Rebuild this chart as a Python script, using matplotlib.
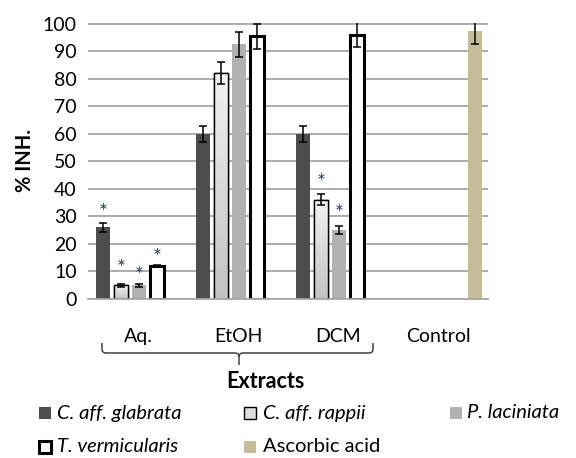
import numpy as np
import matplotlib.pyplot as plt
from matplotlib.patches import Rectangle, PathPatch
from matplotlib.path import Path
from matplotlib.colors import LinearSegmentedColormap

plt.rcParams['font.family'] = ['Lato', 'DejaVu Sans']

# data
groups = ['Aq.', 'EtOH', 'DCM', 'Control']
series = ['C. aff. glabrata', 'C. aff. rappii', 'P. laciniata',
          'T. vermicularis', 'Ascorbic acid']

glabrata = [26, 60, 60, 0]
glabrata_err = [1.5, 3, 3, 0]
rappii = [5, 82, 36, 0]
rappii_err = [0.5, 4, 2, 0]
laciniata = [5, 92.5, 25, 0]
laciniata_err = [0.5, 4.5, 1.5, 0]
vermicularis = [12, 95.5, 96, 0]
vermicularis_err = [0.5, 4.5, 4.5, 0]
ascorbic = [0, 0, 0, 97.5]
ascorbic_err = [0, 0, 0, 5]

# significance marks (height of the asterisk, None = none)
star_glabrata = [33.3, None, None, None]
star_rappii = [13.1, None, 44.3, None]
star_laciniata = [10.2, None, 32.8, None]
star_vermicularis = [16.8, None, None, None]

values = [glabrata, rappii, laciniata, vermicularis, ascorbic]
errors = [glabrata_err, rappii_err, laciniata_err, vermicularis_err, ascorbic_err]
stars = [star_glabrata, star_rappii, star_laciniata, star_vermicularis, [None] * 4]

faces = ['#4d4d4d', '#dcdcdc', '#b2b2b2', 'white', '#c4bd97']
edges = ['none', 'black', 'none', 'black', 'none']
edge_w = [0, 1.0, 0, 2.2, 0]

W, H = 576, 458
fig = plt.figure(figsize=(W / 100, H / 100), dpi=100)
ax = fig.add_axes([88 / W, 1 - 299 / H, 400 / W, 276.3 / H])


def fx(px):
    return px / W


def fy(py):
    return 1 - py / H


x = np.arange(len(groups))
slot = 0.18
bw = 0.14
grad = LinearSegmentedColormap.from_list('g', ['#c2c2c2', '#f2f2f2'])

for i in range(len(series)):
    xs = x - 0.35 + i * slot
    vals = np.array(values[i], dtype=float)
    errs = np.array(errors[i], dtype=float)
    keep = vals > 0
    bars = ax.bar(xs[keep], vals[keep], width=bw, color=faces[i],
                  edgecolor=edges[i], linewidth=edge_w[i], zorder=2)
    if i == 1:
        # light gradient fill, as in the original
        for b in bars:
            x0 = b.get_x()
            im = ax.imshow(np.linspace(0, 1, 256).reshape(-1, 1), cmap=grad,
                           extent=[x0, x0 + b.get_width(), 0, b.get_height()],
                           origin='lower', aspect='auto', zorder=2.1)
            im.set_clip_path(b)
            ax.add_patch(Rectangle((x0, 0), b.get_width(), b.get_height(),
                                   fill=False, edgecolor='black', lw=1.0, zorder=2.2))
    ax.errorbar(xs[keep], vals[keep], yerr=errs[keep], fmt='none',
                ecolor='black', elinewidth=1.1, capsize=3, capthick=1.1, zorder=3)
    for j, s in enumerate(stars[i]):
        if s is not None:
            ax.text(xs[j], s - 4.2, '*', ha='center', va='baseline',
                    fontsize=15, color='#2b3f6b', zorder=4)

ax.set_xlim(-0.5, 3.5)
ax.set_ylim(0, 100.4)
ax.set_yticks(np.arange(0, 101, 10))
ax.tick_params(axis='y', length=0, labelsize=14, pad=8)
ax.set_xticks(x)
ax.set_xticklabels(groups, fontsize=14)
ax.tick_params(axis='x', length=0, pad=21)
ax.yaxis.grid(True, color='#a6a6a6', linewidth=1.3)
ax.set_axisbelow(True)
for sp in ['top', 'right', 'left']:
    ax.spines[sp].set_visible(False)
ax.spines['bottom'].set_color('#a6a6a6')
ax.spines['bottom'].set_linewidth(1.3)
ax.set_ylabel('% INH.', fontsize=14.5, fontweight='bold', labelpad=6)

# brace under the three extract groups
L, R, T, Hh, M, C, r = 102, 373, 343, 353, 239, 365, 4
verts = [(L, T), (L, Hh - r), (L, Hh), (L + r, Hh), (M - r, Hh), (M, Hh), (M, Hh + r), (M, C),
         (R, T), (R, Hh - r), (R, Hh), (R - r, Hh), (M + r, Hh), (M, Hh), (M, Hh + r)]
codes = [Path.MOVETO, Path.LINETO, Path.CURVE3, Path.CURVE3, Path.LINETO, Path.CURVE3, Path.CURVE3, Path.LINETO,
         Path.MOVETO, Path.LINETO, Path.CURVE3, Path.CURVE3, Path.LINETO, Path.CURVE3, Path.CURVE3]
verts = [(fx(a), fy(b)) for a, b in verts]
fig.patches.append(PathPatch(Path(verts, codes), fill=False, edgecolor='#404040',
                             linewidth=1.1, transform=fig.transFigure))
fig.text(fx(265), fy(382), 'Extracts', ha='center', va='center',
         fontsize=15.5, fontweight='bold')

# legend laid out like the original, row by row
leg_marker_x = [39, 244, 450, 39, 244]
leg_text_x = [57, 263, 467, 57, 263]
leg_y = [413, 413, 413, 447, 447]
leg_edge_w = [0, 1.0, 0, 2.2, 0]
for i, name in enumerate(series):
    fig.patches.append(Rectangle((fx(leg_marker_x[i]), fy(leg_y[i] + 6)), 12 / W, 12 / H,
                                 facecolor=faces[i], edgecolor=edges[i],
                                 linewidth=leg_edge_w[i], transform=fig.transFigure))
    fig.text(fx(leg_text_x[i]), fy(leg_y[i]), name, ha='left', va='center',
             fontsize=14.5, fontstyle='normal' if name == 'Ascorbic acid' else 'italic')

fig.savefig('out.png', dpi=100)
